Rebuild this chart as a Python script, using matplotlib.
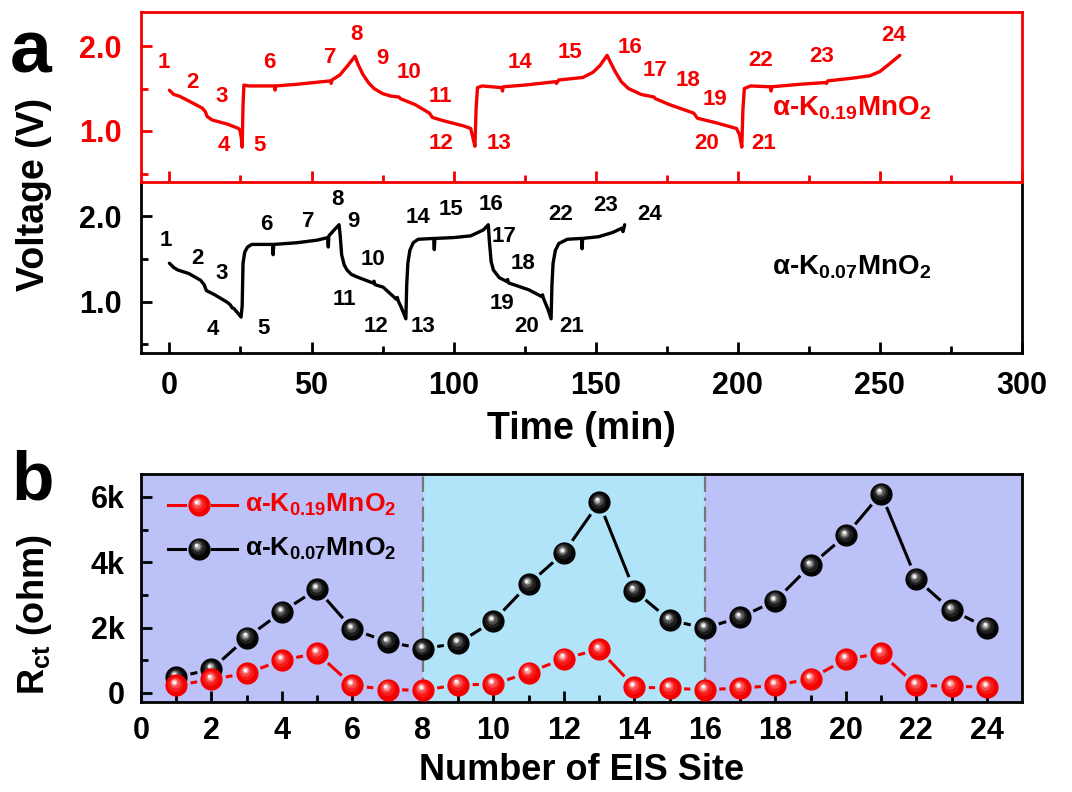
import numpy as np
import matplotlib
matplotlib.use('Agg')
import matplotlib.pyplot as plt
from matplotlib.transforms import offset_copy
from matplotlib.colors import to_rgb

plt.rcParams['font.family'] = ['Liberation Sans', 'DejaVu Sans']
plt.rcParams['font.weight'] = 'bold'
plt.rcParams['mathtext.fontset'] = 'custom'
plt.rcParams['mathtext.rm'] = 'Liberation Sans:bold'
plt.rcParams['mathtext.bf'] = 'Liberation Sans:bold'
plt.rcParams['mathtext.it'] = 'Liberation Sans:bold'
plt.rcParams['mathtext.default'] = 'bf'

# ---------------- data: panel a (time in min, voltage in V) ----------------
red_time = [0, 1.5, 3.5, 7, 11.5, 12.6, 13.3, 15, 20.5, 24.3, 24.8, 25.3, 25.6, 25.9, 26.2, 28,
            37.0, 37.2, 37.4, 45, 56.7, 56.9, 57.2, 60, 63, 65.3, 66.3, 68, 70, 72, 75, 78,
            80.8, 81.3, 86.5, 91.5, 92.5, 96.5, 103.5, 106, 106.8, 107.5, 107.9, 108.4, 110,
            117, 117.2, 117.4, 125, 135.8, 136.2, 137, 145.5, 149, 151.5, 154, 155, 157, 159,
            161.5, 166, 170.5, 171, 176, 184.5, 185.8, 192, 199.5, 200.6, 201.4, 201.8, 202.3,
            204.5, 211.5, 211.7, 211.9, 222, 230.8, 231.2, 231.7, 240, 246.5, 250, 253, 257]
red_volt = [1.48, 1.43, 1.41, 1.35, 1.27, 1.23, 1.17, 1.13, 1.08, 1.03, 1.01, 0.92, 0.81, 1.30, 1.54, 1.53,
            1.53, 1.48, 1.53, 1.55, 1.59, 1.56, 1.60, 1.66, 1.78, 1.88, 1.79, 1.67, 1.57, 1.50, 1.44, 1.41,
            1.40, 1.38, 1.31, 1.21, 1.16, 1.12, 1.06, 1.03, 0.92, 0.82, 1.25, 1.51, 1.53,
            1.51, 1.47, 1.52, 1.54, 1.58, 1.56, 1.60, 1.63, 1.69, 1.77, 1.89, 1.82, 1.69, 1.58,
            1.50, 1.43, 1.40, 1.38, 1.31, 1.21, 1.15, 1.10, 1.03, 0.96, 0.81, 1.25, 1.50,
            1.53, 1.52, 1.47, 1.52, 1.55, 1.57, 1.56, 1.59, 1.62, 1.65, 1.70, 1.78, 1.89]

black_time = [0, 1.5, 3, 6.8, 11, 12.2, 13, 16, 20.5, 21.5, 22, 22.7, 24.5, 25.2, 25.6, 25.9, 26.5,
              27.5, 29, 36.3, 36.5, 36.7, 45, 52, 55.7, 55.9, 56.1, 58, 59.7, 60.1, 60.6, 61.5,
              62.5, 64, 66, 71.5, 72.0, 72.3, 75.2, 77.5, 79.8, 80.2, 80.5, 81.5, 83.2, 83.5,
              83.9, 84.6, 85.8, 87.5, 93.0, 93.2, 93.4, 100, 106, 110.5, 112.2, 112.6, 113.2,
              114.0, 116.1, 118.5, 119.0, 119.3, 126.4, 131.0, 131.3, 131.6, 133.2, 134.3, 134.6,
              135.0, 135.8, 137.0, 140, 145.0, 145.2, 145.4, 151, 156, 159.2, 159.6, 160.2]
black_volt = [1.45, 1.40, 1.37, 1.33, 1.25, 1.20, 1.13, 1.08, 0.99, 0.96, 0.93, 0.92, 0.85, 0.82, 0.95, 1.45, 1.58,
              1.64, 1.67, 1.67, 1.55, 1.67, 1.69, 1.72, 1.75, 1.64, 1.77, 1.84, 1.90, 1.77, 1.55, 1.43,
              1.37, 1.32, 1.29, 1.22, 1.24, 1.20, 1.17, 1.10, 1.03, 1.05, 1.01, 0.94, 0.80, 1.20,
              1.45, 1.60, 1.69, 1.73, 1.74, 1.61, 1.74, 1.75, 1.77, 1.84, 1.90, 1.70, 1.47,
              1.37, 1.28, 1.24, 1.26, 1.22, 1.14, 1.06, 1.08, 1.04, 0.91, 0.80, 1.20,
              1.45, 1.60, 1.68, 1.73, 1.74, 1.62, 1.74, 1.76, 1.81, 1.86, 1.82, 1.90]

site_labels = [str(i) for i in range(1, 25)]
red_lab_t = [-2, 8.2, 18.4, 19.3, 31.8, 35, 56.6, 65.7, 74.8, 84.3, 95.5, 95.7, 116, 123.3, 141,
             162, 171, 182.4, 192, 189, 209, 208, 229.5, 255]
red_lab_v = [1.81, 1.57, 1.40, 0.83, 0.83, 1.81, 1.87, 2.14, 1.85, 1.69, 1.41, 0.85, 0.85, 1.81, 1.92,
             1.98, 1.71, 1.60, 1.37, 0.85, 0.85, 1.83, 1.88, 2.12]
black_lab_t = [-1.4, 9.7, 18.4, 15.3, 33, 34, 48.9, 59.1, 64.8, 71.6, 61.4, 72.7, 89.2, 87.5, 99,
               113.2, 117.7, 124.5, 117.2, 125.6, 141.5, 137.5, 153.4, 169]
black_lab_v = [1.71, 1.51, 1.33, 0.67, 0.69, 1.90, 1.94, 2.20, 1.94, 1.49, 1.02, 0.71, 0.71, 1.98, 2.08,
               2.14, 1.76, 1.45, 0.98, 0.71, 0.71, 2.02, 2.12, 2.02]

# ---------------- data: panel b ----------------
eis_site = list(range(1, 25))
rct_k019 = [230, 410, 600, 1000, 1210, 230, 100, 80, 250, 260, 620, 1050, 1330, 180, 140, 100,
            140, 230, 430, 1030, 1210, 230, 200, 180]
rct_k007 = [480, 720, 1690, 2480, 3180, 1950, 1560, 1350, 1520, 2200, 3330, 4290, 5830, 3130, 2230,
            1980, 2310, 2820, 3900, 4820, 6100, 3490, 2530, 2000]
rct_ticks = [0, 2000, 4000, 6000]
rct_ticklabels = ['0', '2k', '4k', '6k']

name_019 = 'α-K$_{0.19}$MnO$_{2}$'
name_007 = 'α-K$_{0.07}$MnO$_{2}$'

RED = '#F50000'
BLK = '#000000'
LAV = '#BCC1F7'
LBLUE = '#B2E4F9'

W, H = 1072, 792
fig = plt.figure(figsize=(W / 100, H / 100), dpi=100)


def frame(l, t, r, b):
    return [l / W, 1 - b / H, (r - l) / W, (b - t) / H]


L, R = 141, 1022
ax_r = fig.add_axes(frame(L, 12, R, 182))
ax_k = fig.add_axes(frame(L, 182, R, 353))
ax_b = fig.add_axes(frame(L, 474, R, 702))
ax_r.set_zorder(3)
ax_r.patch.set_alpha(0)

TICK_FS = 22

# ---------- panel a, red ----------
ax_r.plot(red_time, red_volt, color=RED, lw=2.4, solid_joinstyle='round', solid_capstyle='round')
for s, t, v in zip(site_labels, red_lab_t, red_lab_v):
    ax_r.text(t, v, s, color=RED, fontsize=16, ha='center', va='center', fontweight='bold')
ax_r.text(212, 1.27, name_019, color=RED, fontsize=20, ha='left', va='center')
for sp in ax_r.spines.values():
    sp.set_color(RED)
    sp.set_linewidth(2)

# ---------- panel a, black ----------
ax_k.plot(black_time, black_volt, color=BLK, lw=2.4, solid_joinstyle='round', solid_capstyle='round')
for s, t, v in zip(site_labels, black_lab_t, black_lab_v):
    ax_k.text(t, v, s, color=BLK, fontsize=16, ha='center', va='center', fontweight='bold')
ax_k.text(212, 1.40, name_007, color=BLK, fontsize=20, ha='left', va='center')
for sp in ax_k.spines.values():
    sp.set_linewidth(2)
ax_k.spines['top'].set_visible(False)

for ax, col in ((ax_r, RED), (ax_k, BLK)):
    ax.set_xlim(-10, 300)
    ax.set_ylim(0.4, 2.4)
    ax.set_xticks(np.arange(0, 301, 50))
    ax.set_xticks(np.arange(25, 300, 50), minor=True)
    ax.set_yticks([1.0, 2.0])
    ax.set_yticks([0.5, 1.5], minor=True)
    ax.set_yticklabels(['1.0', '2.0'])
    ax.tick_params(which='both', direction='in', color=col, labelcolor=col, width=2,
                   top=False, right=False, labelsize=TICK_FS)
    ax.tick_params(which='major', length=8)
    ax.tick_params(which='minor', length=5)
    ax.tick_params(axis='y', which='major', pad=14)
    ax.tick_params(axis='x', which='major', pad=13)
ax_r.tick_params(labelbottom=False)
ax_k.set_xlabel('Time (min)', fontsize=27, fontweight='bold', labelpad=7)
fig.text(52 / W, 1 - 194 / H, 'Voltage (V)', rotation=90, ha='right', va='center',
         fontsize=27, fontweight='bold')

# ---------- panel b ----------
ax_b.set_xlim(0, 25)
ax_b.set_ylim(-280, 6700)
ax_b.axvspan(0, 8, color=LAV, zorder=0, lw=0)
ax_b.axvspan(8, 16, color=LBLUE, zorder=0, lw=0)
ax_b.axvspan(16, 25, color=LAV, zorder=0, lw=0)
for xv in (8, 16):
    ax_b.axvline(xv, color='#777777', lw=1.6, dashes=(7, 2.5, 1.5, 2.5), zorder=1)

ax_b.set_xticks(np.arange(0, 25, 2))
ax_b.set_xticks(np.arange(1, 25, 2), minor=True)
ax_b.set_yticks(rct_ticks)
ax_b.set_yticklabels(rct_ticklabels)
ax_b.set_yticks([1000, 3000, 5000], minor=True)
ax_b.tick_params(which='both', direction='in', width=2, top=False, right=False, labelsize=TICK_FS)
ax_b.tick_params(which='major', length=8)
ax_b.tick_params(which='minor', length=5)
ax_b.tick_params(axis='y', which='major', pad=12)
ax_b.tick_params(axis='x', which='major', pad=10)
for sp in ax_b.spines.values():
    sp.set_linewidth(2)
ax_b.set_xlabel('Number of EIS Site', fontsize=26, fontweight='bold', labelpad=5)
fig.text(54 / W, 1 - 615 / H, 'R$_{ct}$ (ohm)', rotation=90, ha='right', va='center',
         fontsize=26, fontweight='bold')

GAP = 14.5  # px gap between line and marker centre


def gapped_line(ax, xs, ys, color, trans):
    pts = trans.transform(np.column_stack([xs, ys]))
    inv = trans.inverted()
    for p0, p1 in zip(pts[:-1], pts[1:]):
        d = p1 - p0
        n = np.hypot(*d)
        if n <= 2 * GAP:
            continue
        u = d / n
        a = inv.transform(p0 + u * GAP)
        b = inv.transform(p1 - u * GAP)
        ax.plot([a[0], b[0]], [a[1], b[1]], color=color, lw=2.2, transform=trans,
                solid_capstyle='butt', zorder=3, clip_on=False)


def spheres(ax, xs, ys, color, trans):
    base = np.array(to_rgb(color))
    layers = [(16, 0.0, 0.0), (11, 0.10, 0.45), (7.5, 0.30, 0.7), (4.5, 0.65, 0.9), (2.5, 0.95, 1.0)]
    for ms, blend, f in layers:
        c = base * (1 - blend) + np.ones(3) * blend
        tr = offset_copy(trans, fig=fig, x=-2.2 * f, y=3.2 * f, units='dots')
        ax.plot(xs, ys, 'o', ms=ms, color=c, mec='none', transform=tr, zorder=4, clip_on=False)


fig.canvas.draw()
gapped_line(ax_b, eis_site, rct_k007, BLK, ax_b.transData)
gapped_line(ax_b, eis_site, rct_k019, RED, ax_b.transData)
spheres(ax_b, eis_site, rct_k007, '#050505', ax_b.transData)
spheres(ax_b, eis_site, rct_k019, RED, ax_b.transData)

# legend drawn by hand
for yy, col, nm in ((0.864, RED, name_019), (0.673, BLK, name_007)):
    ax_b.plot([0.031, 0.050], [yy, yy], color=col, lw=2.2, transform=ax_b.transAxes, zorder=3)
    ax_b.plot([0.081, 0.109], [yy, yy], color=col, lw=2.2, transform=ax_b.transAxes, zorder=3)
    spheres(ax_b, [0.0654], [yy], col if col != BLK else '#050505', ax_b.transAxes)
    ax_b.text(0.118, yy, nm, color=col, fontsize=19, ha='left', va='center', transform=ax_b.transAxes)

fig.text(31 / W, 1 - 53 / H, 'a', fontsize=54, fontweight='bold', ha='center', va='center')
fig.text(33 / W, 1 - 482 / H, 'b', fontsize=50, fontweight='bold', ha='center', va='center')

fig.savefig('out.png', dpi=100, facecolor='white')
